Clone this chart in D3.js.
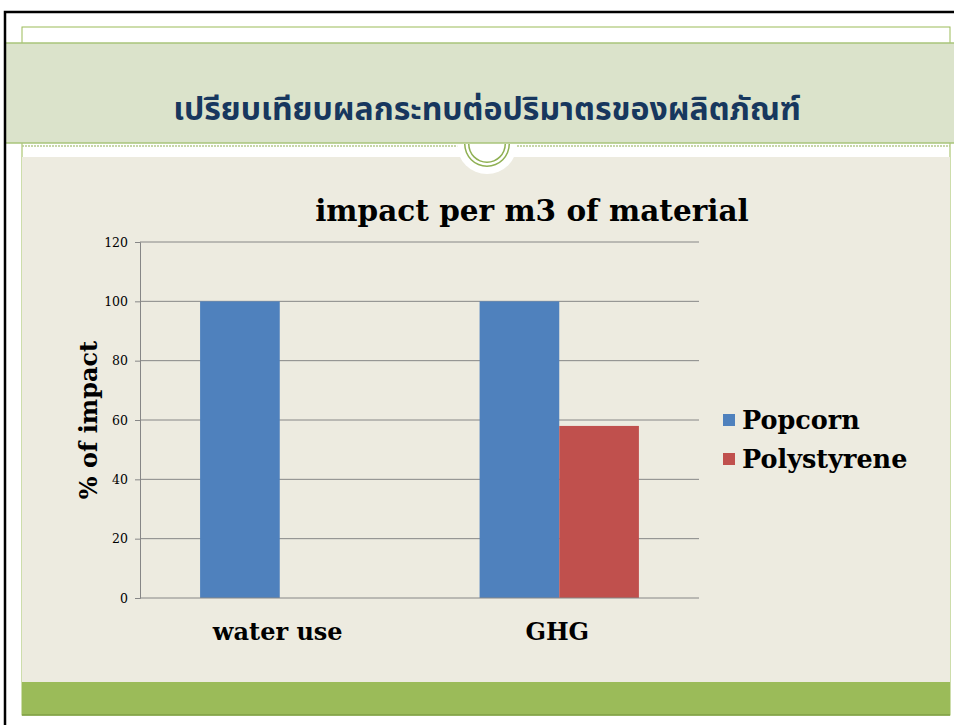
<!DOCTYPE html>
<html><head><meta charset="utf-8">
<script src="https://cdn.jsdelivr.net/npm/d3@7"></script>
<style>html,body{margin:0;padding:0;background:#fff;}svg{display:block;}</style>
</head><body>
<script>
const slideTitle = "เปรียบเทียบผลกระทบต่อปริมาตรของผลิตภัณฑ์";
const chartTitle = "impact per m3 of material";
const categories = ["water use", "GHG"];
const seriesNames = ["Popcorn", "Polystyrene"];
const popcorn = [100, 100];
const polystyrene = [0, 58];
const yTicks = [0, 20, 40, 60, 80, 100, 120];
const yTitle = "% of impact";
const colors = ["#4f81bd", "#c0504d"];

const W = 954, H = 725;
const svg = d3.select("body").append("svg").attr("width", W).attr("height", H);
const serif = "'DejaVu Serif', 'Liberation Serif', serif";

// slide decoration
svg.append("rect").attr("x",0).attr("y",0).attr("width",W).attr("height",H).attr("fill","#fff");
svg.append("rect").attr("x",22).attr("y",27).attr("width",928).attr("height",688).attr("fill","none").attr("stroke","#9bbb59").attr("stroke-width",1);
svg.append("rect").attr("x",22).attr("y",157).attr("width",928).attr("height",525).attr("fill","#edebe0");
svg.append("rect").attr("x",22).attr("y",682).attr("width",928).attr("height",33).attr("fill","#9bbb59");
svg.append("line").attr("x1",22).attr("x2",950).attr("y1",715).attr("y2",715).attr("stroke","#7f9f45").attr("stroke-width",1.5);
svg.append("rect").attr("x",6).attr("y",43).attr("width",W).attr("height",100).attr("fill","#dbe3cb");
svg.append("line").attr("x1",6).attr("x2",W).attr("y1",43).attr("y2",43).attr("stroke","#a9c47a").attr("stroke-width",1.5);
svg.append("line").attr("x1",6).attr("x2",W).attr("y1",143).attr("y2",143).attr("stroke","#a9c47a").attr("stroke-width",1.5);
svg.append("line").attr("x1",22).attr("x2",460).attr("y1",146).attr("y2",146).attr("stroke","#b5c98d").attr("stroke-width",1.5).attr("stroke-dasharray","2,1");
svg.append("line").attr("x1",514).attr("x2",950).attr("y1",146).attr("y2",146).attr("stroke","#b5c98d").attr("stroke-width",1.5).attr("stroke-dasharray","2,1");
// circle ornament
svg.append("path").attr("d", d3.arc()({innerRadius:0, outerRadius:30, startAngle:Math.PI/2, endAngle:Math.PI*1.5})).attr("transform","translate(487,144)").attr("fill","#fff");
svg.append("path").attr("d", d3.arc()({innerRadius:21.5, outerRadius:23, startAngle:Math.PI/2, endAngle:Math.PI*1.5})).attr("transform","translate(487,144)").attr("fill","#8fb053");
svg.append("path").attr("d", d3.arc()({innerRadius:17.5, outerRadius:19, startAngle:Math.PI/2, endAngle:Math.PI*1.5})).attr("transform","translate(487,144)").attr("fill","#8fb053");
// black frame
svg.append("path").attr("d","M5,725V12H954").attr("fill","none").attr("stroke","#000").attr("stroke-width",2.5);

svg.append("text").attr("x",487).attr("y",120).attr("text-anchor","middle")
  .attr("font-family","'Noto Sans Thai','Noto Sans','DejaVu Sans',sans-serif").attr("font-weight","bold")
  .attr("font-size",32).attr("fill","#17375e").text(slideTitle);

// chart
const m = {left:140, right:699, top:242, bottom:598};
const y = d3.scaleLinear().domain([0,120]).range([m.bottom, m.top]);
const x0 = d3.scaleBand().domain(categories).range([m.left, m.right]).paddingInner(0).paddingOuter(0);
const groupW = x0.bandwidth()*0.57;
const x1 = d3.scaleBand().domain(seriesNames).range([0, groupW]);

svg.append("text").attr("x",532).attr("y",221).attr("text-anchor","middle").attr("font-family",serif)
  .attr("font-weight","bold").attr("font-size",29.5).attr("fill","#000").text(chartTitle);

const yAxis = svg.append("g").attr("transform",`translate(${m.left},0)`)
  .call(d3.axisLeft(y).tickValues(yTicks).tickSize(5).tickPadding(7));
yAxis.select(".domain").attr("stroke","#868686");
yAxis.selectAll(".tick line").attr("stroke","#868686");
yAxis.selectAll(".tick text").attr("font-family",serif).attr("font-size",12.5).attr("fill","#000");

svg.append("g").selectAll("line").data(yTicks.filter(d=>d>0)).join("line")
  .attr("x1",m.left).attr("x2",m.right).attr("y1",d=>y(d)).attr("y2",d=>y(d))
  .attr("stroke","#868686").attr("stroke-width",1);

const data = categories.map((c,i)=>({cat:c, vals:[popcorn[i], polystyrene[i]]}));
const groups = svg.append("g").selectAll("g").data(data).join("g")
  .attr("transform", d=>`translate(${x0(d.cat) + (x0.bandwidth()-groupW)/2},0)`);
groups.selectAll("rect").data(d=>d.vals.map((v,j)=>({v, s:seriesNames[j], j}))).join("rect")
  .attr("x", d=>x1(d.s)).attr("width", x1.bandwidth())
  .attr("y", d=>y(d.v)).attr("height", d=>m.bottom - y(d.v))
  .attr("fill", d=>colors[d.j]);

svg.append("line").attr("x1",m.left).attr("x2",m.right).attr("y1",m.bottom).attr("y2",m.bottom).attr("stroke","#868686");

svg.append("g").selectAll("text").data(categories).join("text")
  .attr("x", d=>x0(d)+x0.bandwidth()/2 - 2).attr("y", 640).attr("text-anchor","middle")
  .attr("font-family",serif).attr("font-weight","bold").attr("font-size",24).text(d=>d);

svg.append("text").attr("transform","translate(97,420) rotate(-90)").attr("text-anchor","middle")
  .attr("font-family",serif).attr("font-weight","bold").attr("font-size",24).text(yTitle);

const leg = svg.append("g").selectAll("g").data(seriesNames).join("g")
  .attr("transform",(d,i)=>`translate(723,${414 + i*39})`);
leg.append("rect").attr("width",12).attr("height",12).attr("fill",(d,i)=>colors[i]);
leg.append("text").attr("x",19).attr("y",15).attr("font-family",serif).attr("font-weight","bold")
  .attr("font-size",25.5).text(d=>d);
</script>
</body></html>
